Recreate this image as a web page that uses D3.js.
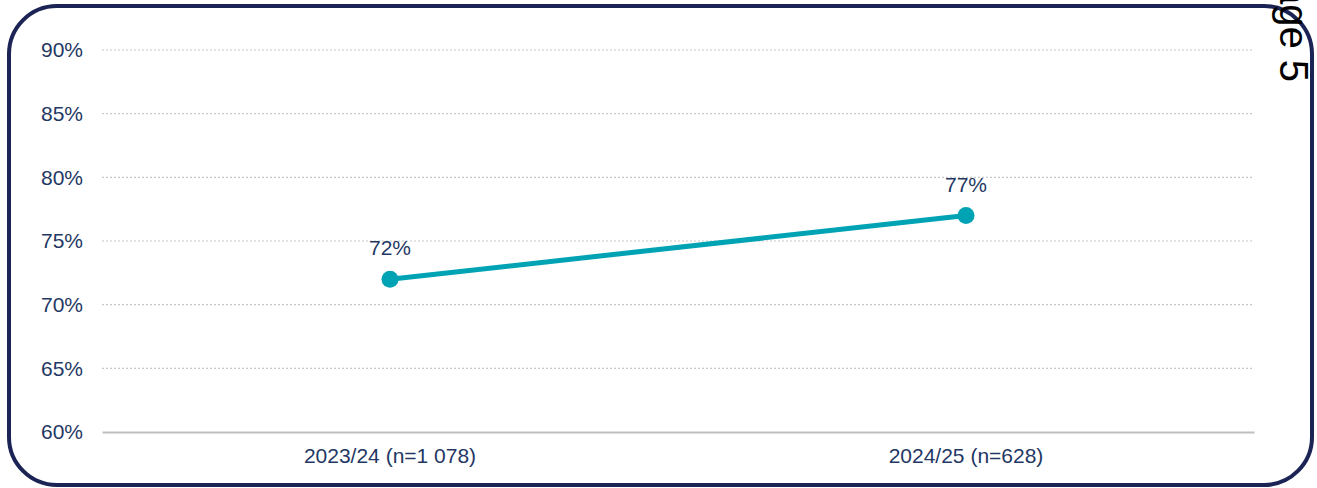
<!DOCTYPE html>
<html>
<head>
<meta charset="utf-8">
<script src="https://d3js.org/d3.v7.min.js"></script>
<style>
  body { margin: 0; background: #fff; }
  svg { display: block; }
</style>
</head>
<body>
<div id="chart"></div>
<script>
// Chart data
const categories = ["2023/24 (n=1 078)", "2024/25 (n=628)"];
const values = [72, 77];
const yTicks = [60, 65, 70, 75, 80, 85, 90];

const width = 1317;
const height = 488;
const margin = { top: 50, right: 63, bottom: 56, left: 102 };
const textColor = "#1f3864";
const lineColor = "#00a3b4";
const fontFamily = "Liberation Sans, Arial, sans-serif";

const svg = d3.select("#chart")
    .append("svg")
    .attr("width", width)
    .attr("height", height);

// rounded frame
svg.append("rect")
    .attr("x", 9)
    .attr("y", 6)
    .attr("width", 1303)
    .attr("height", 479)
    .attr("rx", 48)
    .attr("ry", 48)
    .style("fill", "none")
    .style("stroke", "#1b2454")
    .style("stroke-width", 4);

const x = d3.scaleBand()
    .domain(categories)
    .range([margin.left, width - margin.right]);

const y = d3.scaleLinear()
    .domain([60, 90])
    .range([height - margin.bottom, margin.top]);

// grid lines
svg.append("g")
    .selectAll("line")
    .data(yTicks.filter(t => t > 60))
    .enter()
    .append("line")
    .attr("x1", margin.left)
    .attr("x2", width - margin.right)
    .attr("y1", d => y(d))
    .attr("y2", d => y(d))
    .style("stroke", "#c8c8c8")
    .style("stroke-width", 1.2)
    .style("stroke-dasharray", "2,2");

// y axis labels
const yAxis = d3.axisLeft(y)
    .tickValues(yTicks)
    .tickFormat(d => d + "%")
    .tickSize(0)
    .tickPadding(19);

const yG = svg.append("g")
    .attr("transform", `translate(${margin.left},0)`)
    .call(yAxis);
yG.select(".domain").remove();
yG.selectAll("text")
    .style("font-family", fontFamily)
    .style("font-size", "21px")
    .style("fill", textColor);

// x axis
const xAxis = d3.axisBottom(x).tickSize(0).tickPadding(16);
const xG = svg.append("g")
    .attr("transform", `translate(0,${y(60)})`)
    .call(xAxis);
xG.select(".domain")
    .style("stroke", "#bfbfbf")
    .style("stroke-width", 2);
xG.selectAll("text")
    .style("font-family", fontFamily)
    .style("font-size", "21px")
    .style("fill", textColor);

// line
const points = categories.map((c, i) => ({ cat: c, value: values[i] }));
const line = d3.line()
    .x(d => x(d.cat) + x.bandwidth() / 2)
    .y(d => y(d.value));

svg.append("path")
    .datum(points)
    .attr("d", line)
    .style("fill", "none")
    .style("stroke", lineColor)
    .style("stroke-width", 5);

svg.selectAll("circle.pt")
    .data(points)
    .enter()
    .append("circle")
    .attr("class", "pt")
    .attr("cx", d => x(d.cat) + x.bandwidth() / 2)
    .attr("cy", d => y(d.value))
    .attr("r", 8.5)
    .style("fill", lineColor);

svg.selectAll("text.lbl")
    .data(points)
    .enter()
    .append("text")
    .attr("class", "lbl")
    .attr("x", d => x(d.cat) + x.bandwidth() / 2)
    .attr("y", d => y(d.value) - 24)
    .attr("text-anchor", "middle")
    .style("font-family", fontFamily)
    .style("font-size", "21px")
    .style("fill", textColor)
    .text(d => d.value + "%");

// page number, rotated and clipped by the top edge
svg.append("text")
    .attr("transform", "translate(1280,82) rotate(90)")
    .attr("text-anchor", "end")
    .style("font-family", fontFamily)
    .style("font-size", "40px")
    .style("fill", "#000")
    .text("Page 5");
</script>
</body>
</html>
